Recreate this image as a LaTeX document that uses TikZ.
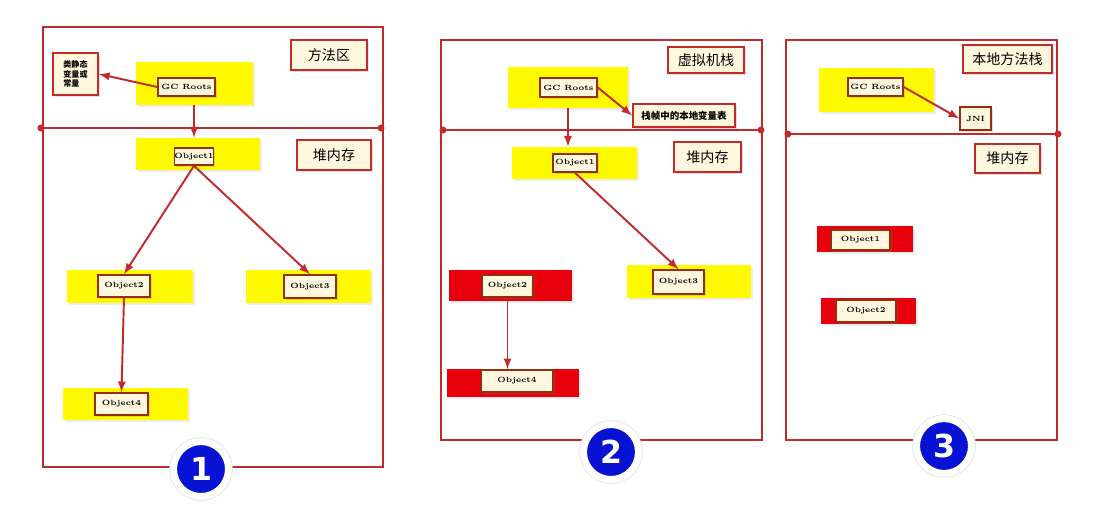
\documentclass[tikz,border=0pt]{standalone}
\usepackage{fontspec}
\newfontfamily\cjk{Noto Sans CJK SC}
\newfontfamily\numfont{DejaVu Sans}
\usepackage{xcolor}
\usepackage{tikz}
\usetikzlibrary{shadows}

\definecolor{frame}{RGB}{195,42,42}
\definecolor{cream}{RGB}{255,247,222}
\definecolor{boxedge}{RGB}{150,45,15}
\definecolor{gcyellow}{RGB}{255,250,0}
\definecolor{deadred}{RGB}{232,0,12}
\definecolor{numblue}{RGB}{8,18,210}

\tikzset{
	sz/.style 2 args={minimum width=#1*0.02cm, minimum height=#2*0.02cm},
	bar/.style={fill=gcyellow, inner sep=0pt, drop shadow={opacity=0.15, shadow xshift=1pt, shadow yshift=-1pt}},
	deadbar/.style={fill=deadred, inner sep=0pt, drop shadow={opacity=0.15, shadow xshift=1pt, shadow yshift=-1pt}},
	objbox/.style={draw=boxedge, line width=0.9pt, fill=cream, inner sep=0pt, font=\fontsize{4.3}{5}\selectfont\bfseries, drop shadow={opacity=0.25, shadow xshift=1pt, shadow yshift=-1pt}},
	areabox/.style={draw=frame, line width=1pt, fill=cream, inner sep=0pt, font=\cjk\fontsize{8}{9}\selectfont, drop shadow={opacity=0.25, shadow xshift=1pt, shadow yshift=-1pt}},
	ref/.style={->, >=latex, draw=frame, line width=1.1pt},
	num/.style={circle, fill=numblue, draw=white, line width=0.14cm, minimum size=1.1cm, inner sep=0pt, text=white, font=\numfont\bfseries\fontsize{18}{18}\selectfont, preaction={draw=gray!25, line width=0.17cm}}
}

\begin{document}
\begin{tikzpicture}[x=0.02cm, y=-0.02cm]
	\useasboundingbox (0,0) rectangle (1094,515);
	
	% Frames and dividers
	\draw[frame, line width=1.4pt] (43,27) rectangle (383,467);
	\draw[frame, line width=1.4pt] (41,128) -- (381,128);
	\fill[frame] (41,128) circle (2pt) (381,128) circle (2pt);
	\draw[frame, line width=1.4pt] (441,40) rectangle (762,440);
	\draw[frame, line width=1.4pt] (441,130) -- (762,130);
	\fill[frame] (443,130) circle (2pt) (761,130) circle (2pt);
	\draw[frame, line width=1.4pt] (786,40) rectangle (1057,440);
	\draw[frame, line width=1.4pt] (786,134) -- (1057,134);
	\fill[frame] (788,134) circle (2pt) (1058,134) circle (2pt);
	
	% Panel 1
	\node[areabox, sz={76}{30}] (method1) at (329,55) {方法区};
	\node[areabox, sz={74}{30}] (heap1) at (334,155) {堆内存};
	\node[areabox, sz={45}{42}, align=left, font=\cjk\bfseries\fontsize{4.6}{5.6}\selectfont] (static1) at (75.5,74) {类静态\\变量或\\常量};
	\node[bar, sz={117}{43}] (gcbar1) at (194.5,83.5) {};
	\node[objbox, sz={57}{18}] (gc1) at (186.5,87) {GC Roots};
	\node[bar, sz={124}{32}] (obar11) at (198,154) {};
	\node[objbox, sz={38}{17}] (o11) at (194,156.5) {Object1};
	\node[bar, sz={126}{33}] (obar12) at (130,286.5) {};
	\node[objbox, sz={52}{22}] (o12) at (124,286) {Object2};
	\node[bar, sz={125}{33}] (obar13) at (308.5,286.5) {};
	\node[objbox, sz={52}{23}] (o13) at (310,286.5) {Object3};
	\node[bar, sz={125}{32}] (obar14) at (125.5,404) {};
	\node[objbox, sz={53}{22}] (o14) at (121.5,404) {Object4};
	
	\draw[ref] (gc1.west) -- (static1.east);
	\draw[ref] (gcbar1.south -| o11) -- (obar11.north -| o11);
	\draw[ref] (o11.south) -- (o12.north);
	\draw[ref] (o11.south) -- (o13.north);
	\draw[ref] (o12.south) -- (o14.north);
	
	% Panel 2
	\node[areabox, sz={76}{26}] (stack2) at (706,60) {虚拟机栈};
	\node[areabox, sz={67}{30}] (heap2) at (707.5,157) {堆内存};
	\node[bar, sz={120}{41}] (gcbar2) at (568,87.5) {};
	\node[objbox, sz={57}{19}] (gc2) at (568.5,87.5) {GC Roots};
	\node[areabox, sz={102}{23}, font=\cjk\bfseries\fontsize{5.4}{6}\selectfont] (locals2) at (684,115.5) {栈帧中的本地变量表};
	\node[bar, sz={125}{32}] (obar21) at (574.5,163) {};
	\node[objbox, sz={44}{18}] (o21) at (575,163) {Object1};
	\node[deadbar, sz={123}{31}] (obar22) at (510.5,285.5) {};
	\node[objbox, sz={51}{22}] (o22) at (507.5,286) {Object2};
	\node[bar, sz={124}{33}] (obar23) at (689,281.5) {};
	\node[objbox, sz={51}{24}] (o23) at (678.5,282) {Object3};
	\node[deadbar, sz={132}{28}] (obar24) at (513,383) {};
	\node[objbox, sz={72}{22}] (o24) at (517,381) {Object4};
	
	\draw[ref] (gc2.east) -- (locals2.west);
	\draw[ref] (gcbar2.south) -- (obar21.north -| gcbar2);
	\draw[ref] (o21.south) -- (o23.north);
	\draw[ref] (o22.south) -- (o22.south |- o24.north);
	
	% Panel 3
	\node[areabox, sz={89}{28}] (native3) at (1007.5,59) {本地方法栈};
	\node[areabox, sz={65}{29}] (heap3) at (1007.5,158.5) {堆内存};
	\node[bar, sz={115}{44}] (gcbar3) at (876.5,90) {};
	\node[objbox, sz={55}{18}] (gc3) at (875.5,87) {GC Roots};
	\node[objbox, sz={31}{23}] (jni3) at (975.5,118.5) {JNI};
	\node[deadbar, sz={96}{26}] (obar31) at (865,239) {};
	\node[objbox, sz={59}{20}] (o31) at (860.5,240) {Object1};
	\node[deadbar, sz={95}{26}] (obar32) at (868.5,311) {};
	\node[objbox, sz={60}{22}] (o32) at (866,311) {Object2};
	
	\draw[ref] (gc3.east) -- (jni3.west);
	
	% Step numbers
	\node[num] (step1) at (201,469) {1};
	\node[num] (step2) at (611,452) {2};
	\node[num] (step3) at (944,446) {3};
\end{tikzpicture}
\end{document}
